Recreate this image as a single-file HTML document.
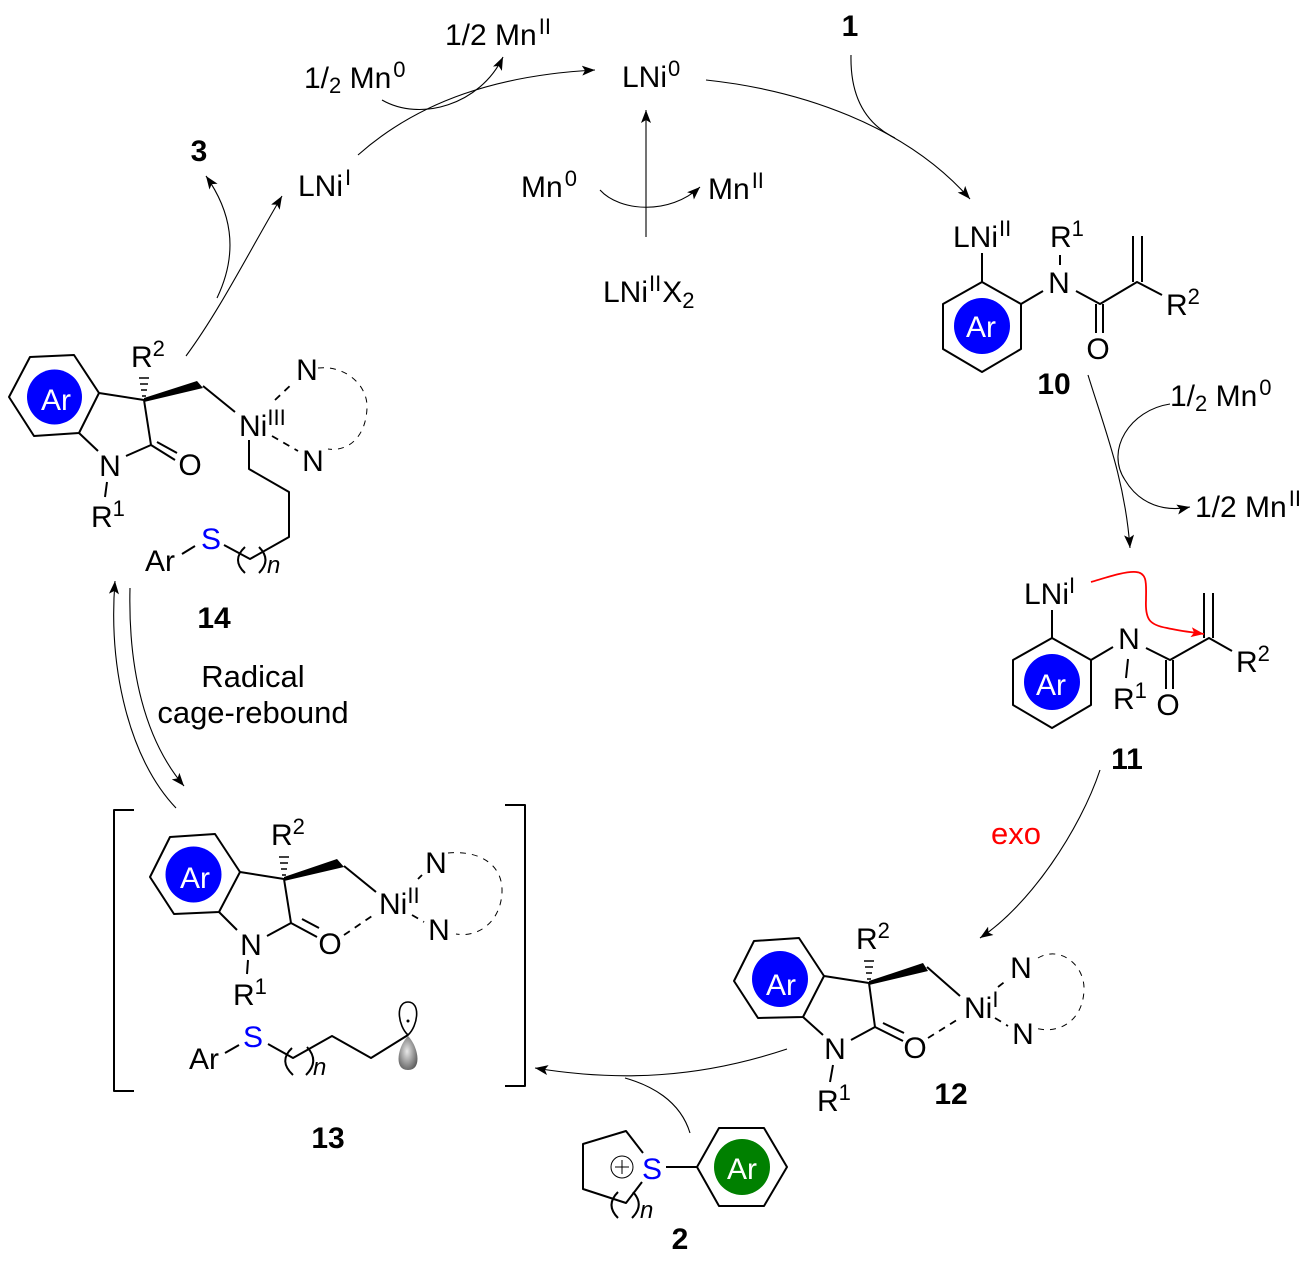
<!DOCTYPE html>
<html><head><meta charset="utf-8"><style>
html,body{margin:0;padding:0;background:#fff}
svg{display:block}
text{font-family:"Liberation Sans",sans-serif;font-size:30px;fill:#000}
.b{font-weight:bold}
.s{font-size:22px}
.n{font-size:24px;font-style:italic}
.w{fill:#fff}
.bl{fill:#0000ff}
.big{font-size:31px}
.bond{fill:none;stroke:#000;stroke-width:2;stroke-linejoin:round}
.arr{fill:none;stroke:#000;stroke-width:1.1}
.dash{fill:none;stroke:#000;stroke-width:1.8;stroke-dasharray:7 6}
.arc{fill:none;stroke:#000;stroke-width:1;stroke-dasharray:6 6}
.hash{fill:none;stroke:#000;stroke-width:1.5}
</style></head><body>
<svg width="1312" height="1267" viewBox="0 0 1312 1267" xmlns="http://www.w3.org/2000/svg">
<defs>
<marker id="a" markerUnits="userSpaceOnUse" markerWidth="16" markerHeight="12" refX="13" refY="5" orient="auto"><path d="M0,0 L13,5 L0,10 L3,5 Z" fill="#000"/></marker>
<marker id="r" markerUnits="userSpaceOnUse" markerWidth="16" markerHeight="12" refX="13" refY="5" orient="auto"><path d="M0,0 L13,5 L0,10 L3,5 Z" fill="#f00"/></marker>
<radialGradient id="g" cx="45%" cy="45%" r="65%"><stop offset="0" stop-color="#e8e8e8"/><stop offset="1" stop-color="#555"/></radialGradient>
</defs>

<!-- cycle arrows -->
<path class="arr" marker-end="url(#a)" d="M706 80 C800 90 905 125 970 199"/>
<path class="arr" d="M851 55 C850 100 868 125 895 138"/>
<path class="arr" marker-end="url(#a)" d="M358 155 C420 100 500 75 595 70"/>
<path class="arr" marker-end="url(#a)" d="M382 100 C420 122 480 105 503 57"/>
<path class="arr" marker-end="url(#a)" d="M646 237 L646 110"/>
<path class="arr" marker-end="url(#a)" d="M600 190 C620 212 670 215 700 187"/>
<path class="arr" marker-end="url(#a)" d="M1088 375 C1105 430 1125 480 1130 548"/>
<path class="arr" marker-end="url(#a)" d="M1170 404 C1130 410 1105 450 1125 480 C1140 505 1165 512 1190 507"/>
<path class="arr" marker-end="url(#a)" d="M1100 770 C1080 830 1030 905 980 938"/>
<path class="arr" marker-end="url(#a)" d="M787 1049 C700 1078 620 1082 535 1068"/>
<path class="arr" d="M690 1133 C680 1100 650 1085 625 1078"/>
<path class="arr" marker-end="url(#a)" d="M176 808 C130 760 108 670 115 581"/>
<path class="arr" marker-end="url(#a)" d="M130 588 C128 670 145 740 184 786"/>
<path class="arr" marker-end="url(#a)" d="M186 356 C220 310 250 250 282 196"/>
<path class="arr" marker-end="url(#a)" d="M217 298 C240 250 230 210 206 176"/>

<!-- top labels -->
<text x="445" y="45">1/2 Mn<tspan class="s" dx="2" dy="-11">II</tspan></text>
<text x="304" y="88">1/<tspan class="s" dy="5">2</tspan><tspan dy="-5"> Mn</tspan><tspan class="s" dx="2" dy="-11">0</tspan></text>
<text x="622" y="87">LNi<tspan class="s" dx="1" dy="-11">0</tspan></text>
<text x="850" y="36" text-anchor="middle" class="b">1</text>
<text x="298" y="196">LNi<tspan class="s" dx="2" dy="-11">I</tspan></text>
<text x="199" y="161" text-anchor="middle" class="b">3</text>
<text x="521" y="197">Mn<tspan class="s" dx="2" dy="-11">0</tspan></text>
<text x="708" y="199">Mn<tspan class="s" dx="2" dy="-11">II</tspan></text>
<text x="603" y="302">LNi<tspan class="s" dx="1" dy="-11">II</tspan><tspan dx="1" dy="11">X</tspan><tspan class="s" dy="6">2</tspan></text>
<text x="1170" y="406">1/<tspan class="s" dy="5">2</tspan><tspan dy="-5"> Mn</tspan><tspan class="s" dx="2" dy="-11">0</tspan></text>
<text x="1195" y="517">1/2 Mn<tspan class="s" dx="2" dy="-11">II</tspan></text>
<text x="1016" y="844" text-anchor="middle" class="big" style="fill:#f00">exo</text>
<text x="253" y="687" text-anchor="middle" class="big">Radical</text>
<text x="253" y="723" text-anchor="middle" class="big">cage-rebound</text>
<text x="1054" y="394" text-anchor="middle" class="b">10</text>
<text x="1127" y="769" text-anchor="middle" class="b">11</text>
<text x="951" y="1104" text-anchor="middle" class="b">12</text>
<text x="328" y="1148" text-anchor="middle" class="b">13</text>
<text x="214" y="628" text-anchor="middle" class="b">14</text>
<text x="680" y="1249" text-anchor="middle" class="b">2</text>

<!-- 10 -->
<polygon class="bond" points="982,282 1021,304 1021,349 982,372 943,349 943,304"/>
<circle cx="982" cy="326" r="28" fill="#0000ff"/>
<text x="981" y="337" text-anchor="middle" class="w">Ar</text>
<path class="bond" d="M982 253V282M1021 304L1043 291M1060 255V265M1076 291L1100 304L1137 282L1162 295M1133 282V236M1142 282V236M1096 304V333M1103 304V333"/>
<text x="953" y="247">LNi<tspan class="s" dx="1" dy="-11">II</tspan></text>
<text x="1050" y="247">R<tspan class="s" dy="-11">1</tspan></text>
<text x="1059" y="293" text-anchor="middle">N</text>
<text x="1098" y="359" text-anchor="middle">O</text>
<text x="1166" y="315">R<tspan class="s" dy="-11">2</tspan></text>

<!-- 11 -->
<polygon class="bond" points="1052,638 1091,660 1091,705 1052,728 1013,705 1013,660"/>
<circle cx="1052" cy="682" r="28" fill="#0000ff"/>
<text x="1051" y="695" text-anchor="middle" class="w">Ar</text>
<path class="bond" d="M1052 610V638M1091 660L1113 647M1128 659L1126 678M1146 648L1170 660L1209 638L1232 651M1204 638V593M1213 638V593M1166 660V689M1173 660V689"/>
<text x="1024" y="604">LNi<tspan class="s" dy="-11">I</tspan></text>
<text x="1129" y="649" text-anchor="middle">N</text>
<text x="1113" y="709">R<tspan class="s" dy="-11">1</tspan></text>
<text x="1168" y="715" text-anchor="middle">O</text>
<text x="1236" y="672">R<tspan class="s" dy="-11">2</tspan></text>
<path fill="none" stroke="#f00" stroke-width="1.8" marker-end="url(#r)" d="M1091 582 C1105 578 1125 571 1136 572 C1148 573 1146 585 1146 600 C1145 620 1150 625 1167 628 C1180 631 1190 632 1204 634"/>

<!-- 12 -->
<polygon class="bond" points="754,941 799,938 824,976 803,1017 758,1018 734,981"/>
<circle cx="780" cy="979" r="28" fill="#0000ff"/>
<text x="781" y="995" text-anchor="middle" class="w">Ar</text>
<path class="bond" d="M824 976L869 983L875 1027L851 1040M803 1017L823 1035M875 1027L903 1041M883 1023L904 1033M833 1065L830 1082M927 967L960 996"/>
<polygon points="869,981 923,963 928,971 869,985" fill="#000"/>
<path class="hash" d="M867 979h4M866 973h6M865 967h8M864 961h10"/>
<text x="835" y="1059" text-anchor="middle">N</text>
<text x="915" y="1058" text-anchor="middle">O</text>
<text x="856" y="949">R<tspan class="s" dy="-11">2</tspan></text>
<text x="817" y="1111">R<tspan class="s" dy="-11">1</tspan></text>
<text x="964" y="1018">Ni<tspan class="s" dy="-11">I</tspan></text>
<text x="1021" y="978" text-anchor="middle">N</text>
<text x="1023" y="1044" text-anchor="middle">N</text>
<path class="dash" d="M928 1038L960 1018M998 987L1007 980M995 1018L1008 1026"/>
<path class="arc" d="M1038 958 C1060 945 1085 965 1084 990 C1083 1020 1060 1035 1035 1028"/>

<!-- 13 -->
<path class="bond" d="M134 810H114V1091H134M505 805H525V1086H505"/>
<polygon class="bond" points="170,837 215,834 240,872 219,912 174,914 150,877"/>
<circle cx="193.5" cy="874.5" r="28" fill="#0000ff"/>
<text x="195" y="888" text-anchor="middle" class="w">Ar</text>
<path class="bond" d="M240 872L284 879L291 923L267 936M219 912L237 930M291 923L317 937M302 919L319 928M248 960L247 974M344 866L376 892M225 1053L239 1045M268 1044L293 1058L332 1036L371 1058L408 1035"/>
<polygon points="284,877 337,859 344,867 284,881" fill="#000"/>
<path class="hash" d="M282 875h4M281 869h6M280 863h8M279 857h10"/>
<text x="251" y="955" text-anchor="middle">N</text>
<text x="330" y="954" text-anchor="middle">O</text>
<text x="271" y="845">R<tspan class="s" dy="-11">2</tspan></text>
<text x="233" y="1005">R<tspan class="s" dy="-11">1</tspan></text>
<text x="379" y="914">Ni<tspan class="s" dy="-11">II</tspan></text>
<text x="436" y="873" text-anchor="middle">N</text>
<text x="439" y="940" text-anchor="middle">N</text>
<path class="dash" d="M344 935L375 914M418 879L422 875M412 915L424 922"/>
<path class="arc" d="M448 853 C480 850 503 865 502 892 C501 920 480 938 456 934"/>
<text x="189" y="1069">Ar</text>
<text x="253" y="1047" text-anchor="middle" class="bl">S</text>
<path class="bond" d="M292 1048Q278 1061 293 1075M307 1047Q320 1061 306 1075"/>
<text x="313" y="1075" class="n">n</text>
<path d="M408 1035 C398 1026 395 1002 408 1002 C421 1002 418 1026 408 1035Z" fill="#fff" stroke="#000" stroke-width="1.6"/>
<circle cx="408" cy="1021" r="1.5" fill="#000"/>
<path d="M408 1036 C398 1046 393 1070 408 1070 C423 1070 418 1046 408 1036Z" fill="url(#g)"/>

<!-- 14 -->
<polygon class="bond" points="30,357 74,355 99,393 79,433 34,436 9,397"/>
<circle cx="54.5" cy="397" r="27.5" fill="#0000ff"/>
<text x="56" y="410" text-anchor="middle" class="w">Ar</text>
<path class="bond" d="M99 393L144 400L151 445L126 456M79 433L98 451M151 445L175 460M157 442L177 453M107 482L105 497M203 386L235 412M249 440V469L289 492V537L250 559L224 545M182 554L195 546"/>
<polygon points="144,398 197,381 203,388 144,402" fill="#000"/>
<path class="hash" d="M142 396h4M141 390h6M140 384h8M139 378h10"/>
<text x="110" y="476" text-anchor="middle">N</text>
<text x="190" y="475" text-anchor="middle">O</text>
<text x="131" y="367">R<tspan class="s" dy="-11">2</tspan></text>
<text x="91" y="527">R<tspan class="s" dy="-11">1</tspan></text>
<text x="239" y="436">Ni<tspan class="s" dy="-11">III</tspan></text>
<text x="307" y="380" text-anchor="middle">N</text>
<text x="313" y="471" text-anchor="middle">N</text>
<path class="dash" d="M275 400L293 383M272 436L298 451"/>
<path class="arc" d="M318 368 C345 365 368 385 367 408 C366 435 350 452 328 449"/>
<text x="145" y="571">Ar</text>
<text x="211" y="549" text-anchor="middle" class="bl">S</text>
<path class="bond" d="M245 547Q231 560 245 573M259 547Q272 560 259 573"/>
<text x="267" y="573" class="n">n</text>

<!-- 2 -->
<path class="bond" d="M643 1153L626 1131L583 1144V1189L626 1203L642 1182M666 1167H697"/>
<polygon class="bond" points="697,1167 719,1128 764,1128 787,1167 764,1206 719,1206"/>
<circle cx="742" cy="1167" r="28" fill="#008000"/>
<text x="742" y="1179" text-anchor="middle" class="w">Ar</text>
<text x="652" y="1179" text-anchor="middle" class="bl">S</text>
<circle cx="622" cy="1167" r="11" fill="none" stroke="#000" stroke-width="1"/>
<path stroke="#000" stroke-width="1" d="M615 1167H629M622 1160V1174"/>
<path class="bond" d="M618 1192Q605 1205 618 1218M633 1192Q645 1205 632 1218"/>
<text x="640" y="1218" class="n">n</text>
</svg>
</body></html>
